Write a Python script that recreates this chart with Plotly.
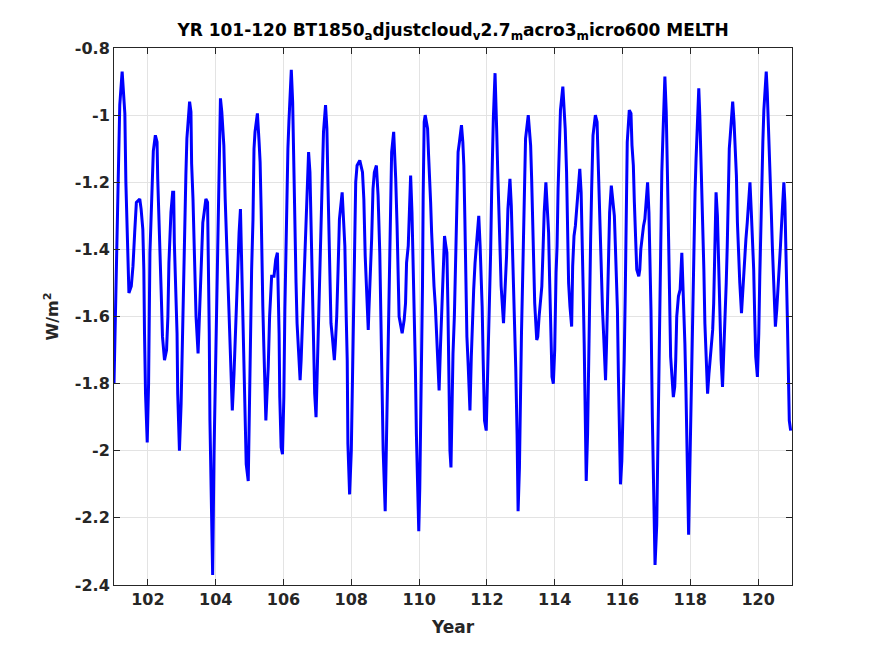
import plotly.graph_objects as go

years = [
101.00,101.02,101.07,101.12,101.17,101.24,101.32,101.35,101.39,101.41,101.44,101.51,101.56,101.61,101.66,101.76,101.80,101.85,101.88,101.90,101.93,101.98,
102.02,102.06,102.10,102.13,102.16,102.22,102.27,102.29,102.34,102.39,102.43,102.49,102.55,102.59,102.62,102.66,102.68,102.73,102.76,102.78,102.82,102.86,102.88,102.93,102.98,
103.00,103.05,103.09,103.12,103.15,103.19,103.23,103.27,103.29,103.33,103.37,103.40,103.42,103.48,103.51,103.54,103.58,103.62,103.66,103.71,103.76,103.78,103.81,103.83,103.87,103.91,103.95,103.98,
104.01,104.05,104.08,104.11,104.14,104.18,104.20,104.24,104.28,104.32,104.36,104.40,104.44,104.49,104.54,104.58,104.61,104.65,104.69,104.73,104.78,104.83,104.86,104.90,104.96,
105.00,105.03,105.06,105.10,105.13,105.16,105.23,105.28,105.31,105.34,105.36,105.39,105.42,105.45,105.48,105.51,105.55,105.59,105.63,105.65,105.72,105.77,105.82,105.85,105.87,105.89,105.93,105.97,
106.01,106.04,106.07,106.10,106.13,106.16,106.23,106.27,106.30,106.33,106.37,106.40,106.44,106.49,106.52,106.56,106.61,106.64,106.68,106.71,106.74,106.78,106.81,106.84,106.88,106.92,106.96,
107.00,107.03,107.07,107.11,107.14,107.18,107.24,107.28,107.31,107.34,107.38,107.40,107.44,107.50,107.53,107.57,107.61,107.65,107.73,107.77,107.81,107.85,107.88,107.90,107.95,
108.00,108.03,108.07,108.10,108.13,108.17,108.25,108.33,108.37,108.41,108.45,108.50,108.52,108.56,108.60,108.64,108.68,108.74,108.79,108.84,108.88,108.91,108.94,
109.00,109.04,109.07,109.10,109.13,109.16,109.19,109.25,109.28,109.31,109.35,109.38,109.41,109.50,109.56,109.60,109.63,109.68,109.71,109.75,109.79,109.82,109.86,109.89,109.92,109.95,109.99,
110.02,110.05,110.08,110.10,110.12,110.15,110.18,110.22,110.25,110.28,110.31,110.34,110.37,110.40,110.44,110.48,110.51,110.54,110.59,110.63,110.67,110.70,110.72,110.75,110.79,110.82,110.85,110.88,110.91,110.94,110.97,
111.00,111.04,111.08,111.11,111.15,111.19,111.25,111.29,111.32,111.35,111.38,111.41,111.45,111.50,111.54,111.57,111.61,111.65,111.69,111.76,111.80,111.83,111.86,111.89,111.93,111.98,
112.01,112.05,112.08,112.11,112.14,112.16,112.19,112.24,112.26,112.29,112.32,112.35,112.38,112.42,112.49,112.54,112.58,112.62,112.68,112.72,112.75,112.78,112.81,112.85,112.89,112.92,112.96,112.99,
113.02,113.05,113.08,113.11,113.14,113.22,113.26,113.29,113.32,113.35,113.38,113.41,113.47,113.50,113.54,113.58,113.62,113.66,113.69,113.74,113.78,113.82,113.85,113.88,113.92,113.96,
114.00,114.04,114.07,114.10,114.14,114.17,114.24,114.28,114.31,114.35,114.38,114.41,114.45,114.50,114.53,114.57,114.61,114.64,114.67,114.74,114.78,114.81,114.84,114.87,114.90,114.93,114.97,
115.00,115.03,115.06,115.09,115.13,115.20,115.25,115.28,115.31,115.34,115.37,115.41,115.45,115.50,115.53,115.56,115.59,115.62,115.67,115.72,115.76,115.79,115.82,115.85,115.88,115.91,115.94,115.98,
116.02,116.05,116.08,116.11,116.14,116.20,116.25,116.28,116.32,116.35,116.38,116.42,116.48,116.51,116.54,116.58,116.62,116.66,116.74,116.78,116.81,116.84,116.88,116.91,116.96,
117.01,117.04,117.07,117.10,117.13,117.16,117.19,117.25,117.29,117.31,117.33,117.36,117.39,117.42,117.50,117.54,117.57,117.60,117.65,117.70,117.75,117.80,117.84,117.87,117.90,117.93,117.95,117.98,
118.01,118.04,118.07,118.10,118.14,118.17,118.20,118.25,118.28,118.31,118.34,118.37,118.40,118.43,118.51,118.55,118.59,118.63,118.66,118.69,118.72,118.74,118.76,118.80,118.82,118.85,118.88,118.91,118.95,118.99,
119.02,119.06,119.09,119.12,119.15,119.18,119.25,119.29,119.32,119.36,119.39,119.42,119.46,119.51,119.55,119.58,119.61,119.64,119.68,119.72,119.76,119.80,119.84,119.87,119.90,119.93,119.98,
120.02,120.05,120.08,120.11,120.14,120.17,120.24,120.27,120.30,120.33,120.36,120.39,120.42,120.46,120.51,120.55,120.59,120.63,120.66,120.69,120.72,120.76,120.79,120.83,120.86,120.89,120.92,120.96,
]

melth = [
-1.80,-1.70,-1.475,-1.16,-0.97,-0.87,-0.995,-1.20,-1.33,-1.46,-1.53,-1.51,-1.45,-1.35,-1.26,-1.25,-1.28,-1.34,-1.46,-1.65,-1.83,-1.975,
-1.80,-1.41,-1.29,-1.19,-1.107,-1.06,-1.08,-1.19,-1.39,-1.52,-1.66,-1.73,-1.70,-1.60,-1.44,-1.35,-1.29,-1.23,-1.23,-1.38,-1.50,-1.65,-1.83,-2.00,-1.86,
-1.75,-1.53,-1.35,-1.18,-1.07,-0.995,-0.96,-0.99,-1.145,-1.25,-1.39,-1.51,-1.60,-1.71,-1.62,-1.52,-1.43,-1.32,-1.29,-1.25,-1.26,-1.38,-1.65,-1.91,-2.16,-2.37,-2.01,-1.84,
-1.62,-1.41,-1.22,-1.02,-0.95,-0.99,-1.03,-1.09,-1.25,-1.38,-1.51,-1.62,-1.74,-1.88,-1.77,-1.65,-1.54,-1.42,-1.35,-1.28,-1.50,-1.68,-1.88,-2.04,-2.09,
-1.82,-1.65,-1.46,-1.31,-1.10,-1.05,-0.995,-1.08,-1.14,-1.28,-1.43,-1.57,-1.69,-1.80,-1.91,-1.84,-1.75,-1.60,-1.52,-1.48,-1.48,-1.43,-1.41,-1.52,-1.65,-1.84,-1.99,-2.01,
-1.84,-1.58,-1.40,-1.25,-1.10,-1.02,-0.865,-0.96,-1.13,-1.37,-1.50,-1.62,-1.69,-1.79,-1.73,-1.62,-1.50,-1.39,-1.28,-1.18,-1.11,-1.17,-1.31,-1.51,-1.71,-1.83,-1.90,
-1.74,-1.65,-1.52,-1.35,-1.20,-1.05,-0.97,-1.04,-1.20,-1.36,-1.50,-1.62,-1.66,-1.73,-1.68,-1.60,-1.46,-1.31,-1.23,-1.31,-1.39,-1.60,-1.73,-1.98,-2.13,
-2.00,-1.84,-1.62,-1.39,-1.20,-1.15,-1.135,-1.17,-1.25,-1.42,-1.52,-1.64,-1.58,-1.48,-1.37,-1.22,-1.17,-1.15,-1.24,-1.41,-1.66,-1.84,-2.00,
-2.18,-1.95,-1.81,-1.62,-1.44,-1.27,-1.11,-1.05,-1.11,-1.19,-1.33,-1.50,-1.60,-1.65,-1.61,-1.56,-1.44,-1.39,-1.29,-1.18,-1.29,-1.41,-1.55,-1.75,-1.95,-2.11,-2.24,
-2.11,-1.92,-1.73,-1.51,-1.24,-1.02,-1.00,-1.02,-1.04,-1.12,-1.18,-1.26,-1.35,-1.44,-1.51,-1.57,-1.64,-1.71,-1.82,-1.69,-1.59,-1.52,-1.44,-1.36,-1.39,-1.41,-1.57,-1.78,-2.00,-2.05,-1.84,
-1.71,-1.60,-1.44,-1.25,-1.11,-1.08,-1.03,-1.08,-1.15,-1.31,-1.52,-1.66,-1.75,-1.88,-1.72,-1.61,-1.52,-1.44,-1.38,-1.30,-1.39,-1.46,-1.57,-1.73,-1.91,-1.94,
-1.83,-1.69,-1.55,-1.41,-1.23,-1.09,-1.01,-0.875,-0.98,-1.05,-1.17,-1.29,-1.41,-1.51,-1.62,-1.52,-1.42,-1.28,-1.19,-1.27,-1.37,-1.52,-1.62,-1.75,-1.95,-2.18,-2.05,-1.80,
-1.65,-1.51,-1.34,-1.17,-1.07,-1.00,-1.04,-1.09,-1.19,-1.33,-1.47,-1.56,-1.67,-1.66,-1.60,-1.56,-1.51,-1.39,-1.29,-1.20,-1.29,-1.35,-1.49,-1.64,-1.78,-1.80,
-1.70,-1.47,-1.39,-1.22,-1.07,-0.985,-0.915,-0.985,-1.04,-1.17,-1.33,-1.50,-1.57,-1.63,-1.45,-1.36,-1.33,-1.29,-1.25,-1.16,-1.23,-1.34,-1.52,-1.68,-1.91,-2.09,-1.95,
-1.72,-1.52,-1.37,-1.22,-1.06,-1.00,-1.02,-1.13,-1.24,-1.35,-1.48,-1.58,-1.67,-1.79,-1.68,-1.56,-1.41,-1.29,-1.21,-1.27,-1.30,-1.39,-1.48,-1.58,-1.78,-1.98,-2.10,-2.03,
-1.88,-1.73,-1.54,-1.31,-1.08,-0.985,-0.995,-1.09,-1.15,-1.26,-1.36,-1.46,-1.48,-1.46,-1.40,-1.36,-1.33,-1.31,-1.20,-1.29,-1.41,-1.58,-1.90,-2.12,-2.34,
-2.22,-2.00,-1.73,-1.55,-1.36,-1.17,-1.07,-0.885,-0.99,-1.07,-1.20,-1.37,-1.54,-1.72,-1.84,-1.81,-1.73,-1.60,-1.54,-1.52,-1.41,-1.54,-1.68,-1.81,-1.97,-2.16,-2.25,-2.09,
-1.92,-1.69,-1.52,-1.38,-1.23,-1.13,-1.04,-0.92,-1.00,-1.11,-1.20,-1.31,-1.46,-1.62,-1.83,-1.77,-1.73,-1.69,-1.64,-1.56,-1.43,-1.31,-1.23,-1.30,-1.39,-1.52,-1.66,-1.73,-1.81,-1.71,
-1.61,-1.50,-1.39,-1.23,-1.10,-1.06,-0.96,-1.02,-1.09,-1.18,-1.32,-1.41,-1.50,-1.59,-1.52,-1.44,-1.40,-1.37,-1.32,-1.26,-1.20,-1.29,-1.37,-1.46,-1.60,-1.72,-1.78,
-1.65,-1.48,-1.32,-1.20,-1.08,-0.985,-0.87,-0.93,-1.01,-1.08,-1.18,-1.29,-1.39,-1.52,-1.63,-1.58,-1.52,-1.45,-1.39,-1.33,-1.25,-1.20,-1.26,-1.41,-1.59,-1.75,-1.91,-1.94,
]

x_ticks = [102, 104, 106, 108, 110, 112, 114, 116, 118, 120]
y_ticks = [-2.4, -2.2, -2.0, -1.8, -1.6, -1.4, -1.2, -1.0, -0.8]
y_tick_text = ["-2.4", "-2.2", "-2", "-1.8", "-1.6", "-1.4", "-1.2", "-1", "-0.8"]

title_text = ("YR 101-120 BT1850<sub>a</sub>djustcloud<sub>v</sub>2.7<sub>m</sub>"
              "acro3<sub>m</sub>icro600 MELTH")

font_family = "DejaVu Sans"
axis_color = "#262626"

# page body has an 8px margin, so the figure is sized to fit the window
FIG_W, FIG_H = 867, 648
PLOT_L, PLOT_R, PLOT_T, PLOT_B = 106, 784, 40, 577

fig = go.Figure()
fig.add_trace(go.Scatter(
    x=years, y=melth, mode="lines",
    line=dict(color="#0000ff", width=3),
    showlegend=False, hoverinfo="skip",
))

axis_common = dict(
    showline=True, linecolor=axis_color, linewidth=1, mirror="allticks",
    ticks="inside", ticklen=6, tickcolor=axis_color, tickwidth=1,
    showgrid=True, gridcolor="#e3e3e3", gridwidth=1, zeroline=False,
    tickfont=dict(family=font_family, size=16, color=axis_color, weight="bold"),
)

fig.update_layout(
    width=FIG_W, height=FIG_H,
    margin=dict(l=PLOT_L, r=FIG_W - PLOT_R, t=PLOT_T, b=FIG_H - PLOT_B),
    paper_bgcolor="white", plot_bgcolor="white",
    font=dict(family=font_family, color=axis_color),
    title=dict(
        text=title_text,
        x=(PLOT_L + PLOT_R) / 2 / FIG_W, xanchor="center",
        y=1 - 22 / FIG_H, yanchor="middle",
        font=dict(family=font_family, size=17, color="black", weight="bold"),
    ),
    xaxis=dict(
        range=[101, 121], tickvals=x_ticks,
        ticktext=[str(v) for v in x_ticks],
        title=dict(text="Year", font=dict(family=font_family, size=17, color=axis_color, weight="bold"), standoff=12),
        **axis_common,
    ),
    yaxis=dict(
        range=[-2.4, -0.8], tickvals=y_ticks,
        ticktext=y_tick_text,
        title=dict(text="W/m<sup>2</sup>", font=dict(family=font_family, size=16, color=axis_color, weight="bold"), standoff=12),
        **axis_common,
    ),
)

fig.write_html("out.html")
